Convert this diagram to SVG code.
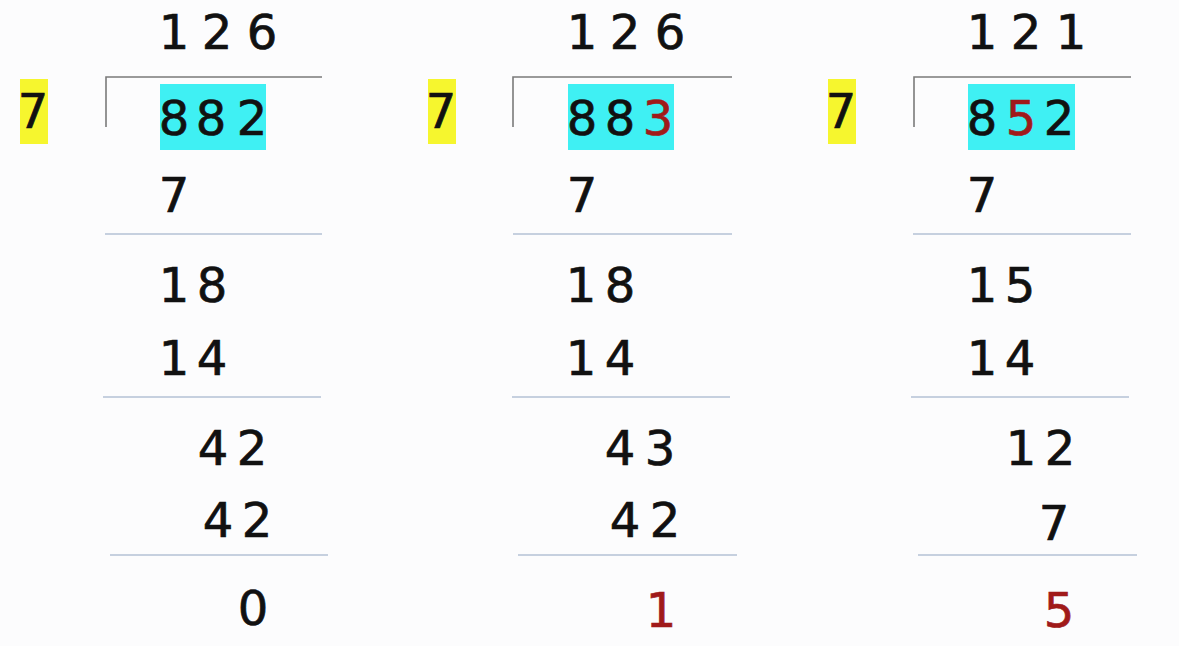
<svg xmlns="http://www.w3.org/2000/svg" width="1179" height="646" viewBox="0 0 1179 646">
<style>
text{font-family:"DejaVu Sans","Noto Sans",sans-serif;font-size:48px;fill:#111;stroke:#111;stroke-width:0.7;text-anchor:middle}
.r{fill:#a01a1a;stroke:#a01a1a}
.yel{fill:#f6f62e}
.cy{fill:#3ff0f3}
.br{stroke:#7a7a7a;stroke-width:1.6;fill:none}
.sub{stroke:#b4c2d4;stroke-width:1.6;fill:none}
</style>
<rect width="1179" height="646" fill="#fcfcfd"/>
<g id="panel1">
<rect class="yel" x="20" y="79" width="28" height="65"/>
<text x="33" y="128">7</text>
<path class="br" d="M106,127 V77 H322"/>
<rect class="cy" x="160" y="84" width="106" height="66"/>
<text x="174 217 262" y="49">126</text>
<text x="174 211 252" y="135">882</text>
<text x="174" y="212">7</text>
<line class="sub" x1="105" y1="234" x2="322" y2="234"/>
<text x="174 212" y="302">18</text>
<text x="174 212" y="375">14</text>
<line class="sub" x1="103" y1="397" x2="321" y2="397"/>
<text x="213 252" y="465">42</text>
<text x="218 257" y="537">42</text>
<line class="sub" x1="110" y1="555" x2="328" y2="555"/>
<text x="253" y="625">0</text>
</g>
<g id="panel2">
<rect class="yel" x="428" y="79" width="28" height="65"/>
<text x="441" y="128">7</text>
<path class="br" d="M513,127 V77 H732"/>
<rect class="cy" x="568" y="84" width="106" height="66"/>
<text x="582 625 670" y="49">126</text>
<text x="582 620" y="135">88</text>
<text class="r" x="658" y="135">3</text>
<text x="582" y="212">7</text>
<line class="sub" x1="513" y1="234" x2="732" y2="234"/>
<text x="581 620" y="302">18</text>
<text x="581 620" y="375">14</text>
<line class="sub" x1="512" y1="397" x2="730" y2="397"/>
<text x="620 660" y="465">43</text>
<text x="625 665" y="537">42</text>
<line class="sub" x1="518" y1="555" x2="737" y2="555"/>
<text class="r" x="661" y="627">1</text>
</g>
<g id="panel3">
<rect class="yel" x="828" y="79" width="28" height="65"/>
<text x="841" y="128">7</text>
<path class="br" d="M914,127 V77 H1131"/>
<rect class="cy" x="968" y="84" width="107" height="66"/>
<text x="982 1026 1071" y="49">121</text>
<text x="982" y="135">8</text>
<text class="r" x="1021" y="135">5</text>
<text x="1059" y="135">2</text>
<text x="982" y="212">7</text>
<line class="sub" x1="913" y1="234" x2="1131" y2="234"/>
<text x="982 1020" y="302">15</text>
<text x="982 1020" y="375">14</text>
<line class="sub" x1="911" y1="397" x2="1129" y2="397"/>
<text x="1021 1060" y="465">12</text>
<text x="1054" y="540">7</text>
<line class="sub" x1="918" y1="555" x2="1137" y2="555"/>
<text class="r" x="1059" y="627">5</text>
</g>
</svg>
